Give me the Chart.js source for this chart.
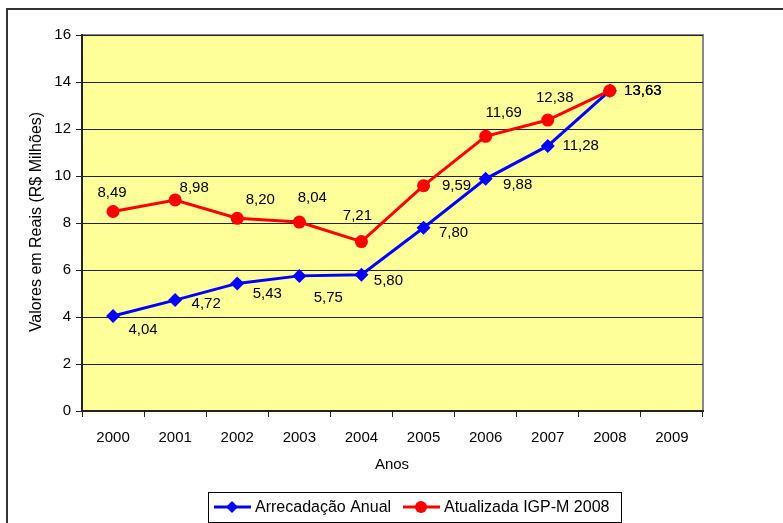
<!DOCTYPE html>
<html>
<head>
<meta charset="utf-8">
<script src="https://cdn.jsdelivr.net/npm/chart.js@4/dist/chart.umd.min.js"></script>
<style>
  html, body { margin: 0; padding: 0; background: #fff; }
  #wrap { width: 783px; height: 523px; }
</style>
</head>
<body>
<div id="wrap"><canvas id="grafico" width="783" height="523"></canvas></div>
<script>
// dados do grafico
const anos = ['2000', '2001', '2002', '2003', '2004', '2005', '2006', '2007', '2008', '2009'];
const arrecadacaoAnual = [4.04, 4.72, 5.43, 5.75, 5.80, 7.80, 9.88, 11.28, 13.63, null];
const atualizadaIGPM = [8.49, 8.98, 8.20, 8.04, 7.21, 9.59, 11.69, 12.38, 13.63, null];
const yMin = 0, yMax = 16, yStep = 2;

const FONT = '"Liberation Sans", Arial, sans-serif';

// deslocamento dos rotulos (estilo, em px)
const offAzul = [[30, 14], [31, 4], [30, 10], [29, 22], [27, 6], [30, 5], [32, 6], [33, 0], [33, 0]];
const offVermelho = [[-1, -19], [19, -12], [23, -18], [13, -24], [-4, -26], [33, 0], [18, -23], [7, -22], [33, 0]];

const fmt = v => v.toFixed(2).replace('.', ',');

const moldura = {
  id: 'moldura',
  beforeDraw(chart) {
    const { ctx, chartArea: a } = chart;
    ctx.save();
    ctx.fillStyle = '#fff';
    ctx.fillRect(0, 0, chart.width, chart.height);
    ctx.strokeStyle = '#333';
    ctx.lineWidth = 2;
    ctx.strokeRect(7, 9, 820, 600);
    ctx.fillStyle = '#FFFF99';
    ctx.fillRect(a.left, a.top, a.right - a.left, a.bottom - a.top);
    ctx.strokeStyle = '#888';
    ctx.lineWidth = 2;
    ctx.strokeRect(a.left, a.top, a.right - a.left, a.bottom - a.top);
    ctx.restore();
  },
  afterDatasetsDraw(chart) {
    const { ctx } = chart;
    ctx.save();
    ctx.font = '15px ' + FONT;
    ctx.fillStyle = '#000';
    ctx.textAlign = 'center';
    ctx.textBaseline = 'middle';
    const sets = [[1, offAzul], [0, offVermelho]];
    sets.forEach(([i, offs]) => {
      const meta = chart.getDatasetMeta(i);
      const data = chart.data.datasets[i].data;
      meta.data.forEach((pt, j) => {
        if (data[j] == null || !offs[j]) return;
        ctx.fillText(fmt(data[j]), pt.x + offs[j][0], pt.y + offs[j][1]);
      });
    });

    // titulos dos eixos
    ctx.font = '15px ' + FONT;
    ctx.fillText('Anos', 392, 465);
    ctx.save();
    ctx.translate(37, 222);
    ctx.rotate(-Math.PI / 2);
    ctx.font = '16px ' + FONT;
    ctx.fillText('Valores em Reais (R$ Milhões)', 0, 0);
    ctx.restore();

    // legenda
    ctx.strokeStyle = '#000';
    ctx.lineWidth = 1;
    ctx.strokeRect(208.5, 492.5, 413, 30);
    const ly = 507;
    ctx.textAlign = 'left';
    ctx.lineWidth = 3;
    ctx.strokeStyle = '#0000FF';
    ctx.beginPath(); ctx.moveTo(214, ly); ctx.lineTo(251, ly); ctx.stroke();
    ctx.fillStyle = '#0000FF';
    ctx.beginPath();
    ctx.moveTo(232, ly - 6); ctx.lineTo(238, ly); ctx.lineTo(232, ly + 6); ctx.lineTo(226, ly);
    ctx.closePath(); ctx.fill();
    ctx.strokeStyle = '#FF0000';
    ctx.beginPath(); ctx.moveTo(403, ly); ctx.lineTo(440, ly); ctx.stroke();
    ctx.fillStyle = '#FF0000';
    ctx.beginPath(); ctx.arc(421, ly, 6, 0, Math.PI * 2); ctx.fill();
    ctx.fillStyle = '#000';
    ctx.font = '16px ' + FONT;
    ctx.fillText('Arrecadação Anual', 255, ly + 1);
    ctx.fillText('Atualizada IGP-M 2008', 444, ly + 1);
    ctx.restore();
  }
};

new Chart(document.getElementById('grafico').getContext('2d'), {
  type: 'line',
  data: {
    labels: anos,
    datasets: [
      {
        label: 'Atualizada IGP-M 2008',
        data: atualizadaIGPM,
        borderColor: '#FF0000',
        backgroundColor: '#FF0000',
        borderWidth: 3,
        pointStyle: 'circle',
        pointRadius: 6.5,
        pointBorderWidth: 0,
        tension: 0,
        order: 1
      },
      {
        label: 'Arrecadação Anual',
        data: arrecadacaoAnual,
        borderColor: '#0000FF',
        backgroundColor: '#0000FF',
        borderWidth: 3,
        pointStyle: 'rectRot',
        pointRadius: 7,
        pointBorderWidth: 0,
        tension: 0,
        order: 2
      }
    ]
  },
  options: {
    responsive: false,
    animation: false,
    layout: { padding: { left: 0, top: 35, right: 80, bottom: 0 } },
    plugins: {
      legend: { display: false },
      tooltip: { enabled: false }
    },
    scales: {
      x: {
        offset: true,
        afterFit: s => { s.height = 112; },
        border: { display: true, color: '#222', width: 2 },
        grid: { offset: true, drawOnChartArea: false, tickLength: 6, color: '#222' },
        ticks: { color: '#000', padding: 12, font: { family: FONT, size: 15 } }
      },
      y: {
        min: yMin,
        max: yMax,
        afterFit: s => { s.width = 82; },
        border: { display: true, color: '#222', width: 2 },
        grid: { color: '#222', lineWidth: 1, tickLength: 6 },
        ticks: { stepSize: yStep, color: '#000', padding: 5, font: { family: FONT, size: 15 } }
      }
    }
  },
  plugins: [moldura]
});
</script>
</body>
</html>
